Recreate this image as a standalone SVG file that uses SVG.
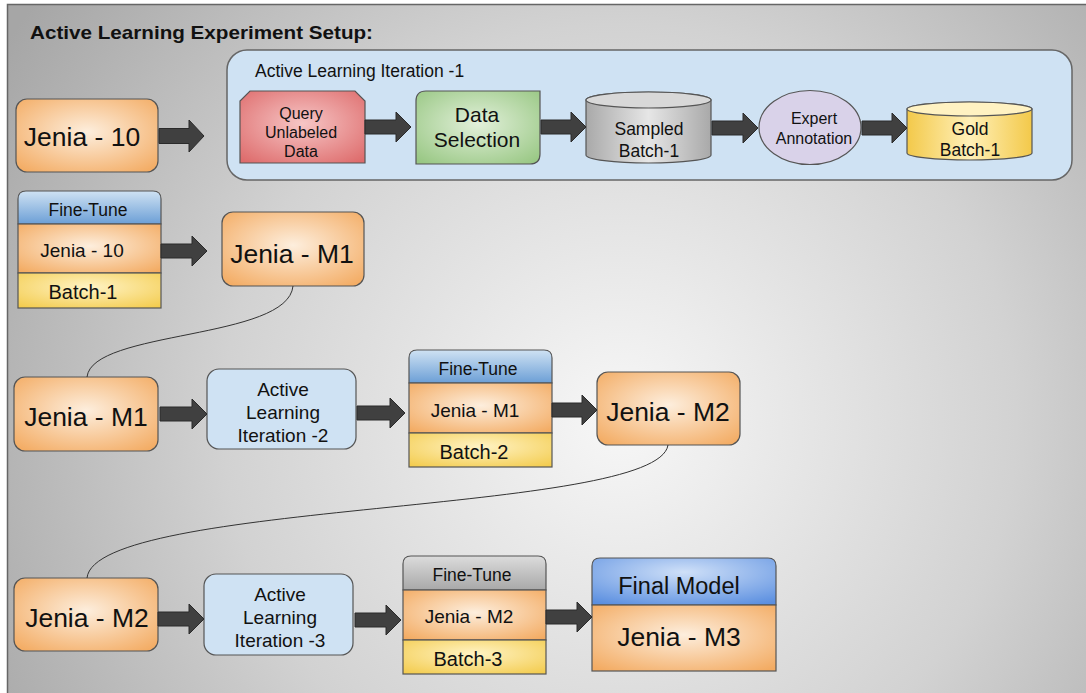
<svg xmlns="http://www.w3.org/2000/svg" width="1086" height="693" viewBox="0 0 1086 693">
<defs>
<radialGradient id="bg" gradientUnits="userSpaceOnUse" cx="620" cy="420" r="720">
<stop offset="0" stop-color="#f7f7f7"/><stop offset="0.55" stop-color="#d2d2d2"/><stop offset="1" stop-color="#a6a6a6"/>
</radialGradient>
<radialGradient id="orange" cx="0.5" cy="0.45" r="0.7">
<stop offset="0" stop-color="#fdeedd"/><stop offset="1" stop-color="#f3ab62"/>
</radialGradient>
<radialGradient id="yellow" cx="0.5" cy="0.4" r="0.75">
<stop offset="0" stop-color="#fff3c4"/><stop offset="1" stop-color="#f3cb4c"/>
</radialGradient>
<radialGradient id="red" cx="0.5" cy="0.45" r="0.7">
<stop offset="0" stop-color="#f6c6c6"/><stop offset="1" stop-color="#de6c6c"/>
</radialGradient>
<radialGradient id="green" cx="0.5" cy="0.45" r="0.7">
<stop offset="0" stop-color="#e2f0da"/><stop offset="1" stop-color="#98c783"/>
</radialGradient>
<linearGradient id="grayc" x1="0" y1="0" x2="1" y2="0">
<stop offset="0" stop-color="#a9a9a9"/><stop offset="0.5" stop-color="#e6e6e6"/><stop offset="1" stop-color="#a9a9a9"/>
</linearGradient>
<linearGradient id="yellowc" x1="0" y1="0" x2="1" y2="0">
<stop offset="0" stop-color="#f3c94a"/><stop offset="0.5" stop-color="#fff0b8"/><stop offset="1" stop-color="#f3c94a"/>
</linearGradient>
<linearGradient id="blue" x1="0" y1="0" x2="0" y2="1">
<stop offset="0" stop-color="#cfe2f3"/><stop offset="1" stop-color="#6c9fd6"/>
</linearGradient>
<radialGradient id="blue2" cx="0.5" cy="0.3" r="0.8">
<stop offset="0" stop-color="#cfe0f8"/><stop offset="1" stop-color="#5b8fe0"/>
</radialGradient>
<linearGradient id="grayh" x1="0" y1="0" x2="0" y2="1">
<stop offset="0" stop-color="#dcdcdc"/><stop offset="1" stop-color="#a8a8a8"/>
</linearGradient>
</defs>
<style>
text{font-family:"Liberation Sans",Arial,sans-serif;fill:#111;text-anchor:middle}
.box{stroke:#555;stroke-width:1.2}
.arr{fill:#404040;stroke:#2a2a2a;stroke-width:1}
.curve{fill:none;stroke:#333;stroke-width:1}
.big{font-size:26.5px}
.mid{font-size:19px}
.cyl{font-size:17.5px}
.sm{font-size:16px}
.ft{font-size:17.5px}
</style>
<rect x="0" y="0" width="1086" height="693" fill="#ffffff"/>
<rect x="7.5" y="4.5" width="1090" height="700" fill="url(#bg)" stroke="#666" stroke-width="1.5"/>
<text x="30" y="39" textLength="343" lengthAdjust="spacingAndGlyphs" style="font-size:19px;font-weight:bold;text-anchor:start">Active Learning Experiment Setup:</text>

<g id="iter1">
<rect x="227" y="50" width="845" height="130" rx="20" fill="#cfe2f3" stroke="#666" stroke-width="1.5"/>
<text x="255" y="77" style="font-size:17.5px;text-anchor:start">Active Learning Iteration -1</text>
</g>

<g id="jenia10">
<rect class="box" x="16" y="99" width="142" height="73" rx="11" fill="url(#orange)"/>
<text class="big" x="82" y="146">Jenia - 10</text>
</g>

<g id="query">
<path class="box" d="M250,91 H355 L365,101 V163 H240 V101 Z" fill="url(#red)"/>
<text class="sm" x="301" y="119">Query</text>
<text class="sm" x="301" y="138">Unlabeled</text>
<text class="sm" x="301" y="157">Data</text>
</g>

<g id="selection">
<path class="box" d="M426,91 H540 V154 Q540,164 530,164 H416 V101 Q416,91 426,91 Z" fill="url(#green)"/>
<text x="477" y="122" style="font-size:21px">Data</text>
<text x="477" y="147" style="font-size:21px">Selection</text>
</g>

<g id="sampled">
<path class="box" d="M586,100 V155 A62.5,8 0 0 0 711,155 V100 A62.5,8 0 0 0 586,100 Z" fill="url(#grayc)"/>
<ellipse class="box" cx="648.5" cy="100" rx="62.5" ry="8" fill="#d8d8d8"/>
<text class="cyl" x="649" y="135">Sampled</text>
<text class="cyl" x="649" y="157">Batch-1</text>
</g>

<g id="expert">
<ellipse class="box" cx="810" cy="127.5" rx="51" ry="37" fill="#d9d2e9"/>
<text class="sm" x="814" y="124">Expert</text>
<text class="sm" x="814" y="144">Annotation</text>
</g>

<g id="gold">
<path class="box" d="M907,109 V153 A62.5,7 0 0 0 1032,153 V109 A62.5,7 0 0 0 907,109 Z" fill="url(#yellowc)"/>
<ellipse class="box" cx="969.5" cy="109" rx="62.5" ry="7" fill="#fff2c2"/>
<text class="cyl" x="970" y="135">Gold</text>
<text class="cyl" x="970" y="156">Batch-1</text>
</g>

<g id="ft1">
<path class="box" d="M26,191 H153 Q161,191 161,199 V224 H18 V199 Q18,191 26,191 Z" fill="url(#blue)"/>
<rect class="box" x="18" y="224" width="143" height="49" fill="url(#orange)"/>
<rect class="box" x="18" y="273" width="143" height="35" fill="url(#yellow)"/>
<text class="ft" x="88" y="216">Fine-Tune</text>
<text class="mid" x="82" y="257">Jenia - 10</text>
<text x="83" y="299" style="font-size:20px">Batch-1</text>
</g>

<g id="m1a">
<rect class="box" x="222" y="212" width="142" height="74" rx="11" fill="url(#orange)"/>
<text class="big" x="292" y="263">Jenia - M1</text>
</g>

<g id="m1b">
<rect class="box" x="14" y="377" width="144" height="74" rx="11" fill="url(#orange)"/>
<text class="big" x="86" y="426">Jenia - M1</text>
</g>

<g id="iter2">
<rect class="box" x="207" y="369" width="149" height="80" rx="12" fill="#cfe2f3"/>
<text class="mid" x="283" y="396">Active</text>
<text class="mid" x="283" y="419">Learning</text>
<text class="mid" x="283" y="442">Iteration -2</text>
</g>

<g id="ft2">
<path class="box" d="M417,350 H544 Q552,350 552,358 V383 H409 V358 Q409,350 417,350 Z" fill="url(#blue)"/>
<rect class="box" x="409" y="383" width="143" height="50" fill="url(#orange)"/>
<rect class="box" x="409" y="433" width="143" height="34" fill="url(#yellow)"/>
<text class="ft" x="478" y="375">Fine-Tune</text>
<text class="mid" x="475" y="417">Jenia - M1</text>
<text x="474" y="459" style="font-size:20px">Batch-2</text>
</g>

<g id="m2a">
<rect class="box" x="597" y="372" width="143" height="73" rx="11" fill="url(#orange)"/>
<text class="big" x="668" y="421">Jenia - M2</text>
</g>

<g id="m2b">
<rect class="box" x="14" y="578" width="144" height="73" rx="11" fill="url(#orange)"/>
<text class="big" x="87" y="627">Jenia - M2</text>
</g>

<g id="iter3">
<rect class="box" x="204" y="574" width="149" height="81" rx="12" fill="#cfe2f3"/>
<text class="mid" x="280" y="601">Active</text>
<text class="mid" x="280" y="624">Learning</text>
<text class="mid" x="280" y="647">Iteration -3</text>
</g>

<g id="ft3">
<path class="box" d="M411,556 H538 Q546,556 546,564 V590 H403 V564 Q403,556 411,556 Z" fill="url(#grayh)"/>
<rect class="box" x="403" y="590" width="143" height="50" fill="url(#orange)"/>
<rect class="box" x="403" y="640" width="143" height="34" fill="url(#yellow)"/>
<text class="ft" x="472" y="581">Fine-Tune</text>
<text class="mid" x="469" y="623">Jenia - M2</text>
<text x="468" y="666" style="font-size:20px">Batch-3</text>
</g>

<g id="final">
<path class="box" d="M600,558 H768 Q776,558 776,566 V605 H592 V566 Q592,558 600,558 Z" fill="url(#blue2)"/>
<rect class="box" x="592" y="605" width="184" height="66" fill="url(#orange)"/>
<text x="679" y="594" style="font-size:23.5px">Final Model</text>
<text x="679" y="646" style="font-size:26.5px">Jenia - M3</text>
</g>

<g id="connectors">
<path class="arr" d="M159,128.5 H189 V120 L204,136 L189,152 V143.5 H159 Z"/>
<path class="arr" d="M365,120 H396 V112 L411,127 L396,142 V134 H365 Z"/>
<path class="arr" d="M541,120 H571 V112 L586,127 L571,142 V134 H541 Z"/>
<path class="arr" d="M712,121 H743 V113 L758,128 L743,143 V135 H712 Z"/>
<path class="arr" d="M862,121 H892 V113 L907,128 L892,143 V135 H862 Z"/>
<path class="arr" d="M161,244 H192 V236 L207,251 L192,266 V258 H161 Z"/>
<path class="arr" d="M160,407 H192 V399 L207,414 L192,429 V421 H160 Z"/>
<path class="arr" d="M357,406 H390 V398 L405,413 L390,428 V420 H357 Z"/>
<path class="arr" d="M552,403 H582 V395 L597,410 L582,425 V417 H552 Z"/>
<path class="arr" d="M158,612 H189 V604 L204,619 L189,634 V626 H158 Z"/>
<path class="arr" d="M355,613 H386 V605 L401,620 L386,635 V627 H355 Z"/>
<path class="arr" d="M546,610 H577 V602 L592,617 L577,632 V624 H546 Z"/>
<path class="curve" d="M293,286 C288,340 92,330 87,377"/>
<path class="curve" d="M668,445 C658,515 95,500 87,578"/>
</g>
</svg>
